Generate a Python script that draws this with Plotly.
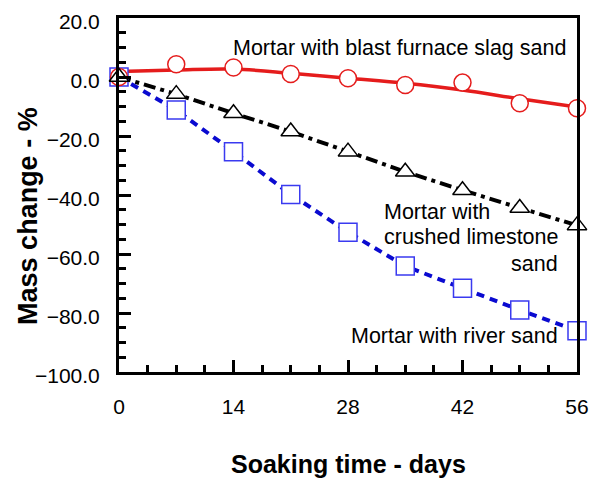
import plotly.graph_objects as go

days = [0, 7, 14, 21, 28, 35, 42, 49, 56]
slag_pts = [0.0, 4.3, 3.2, 1.0, -0.4, -2.7, -1.9, -8.9, -10.6]
slag_fit = [1.9, 2.4, 2.7, 1.3, -0.4, -2.1, -4.4, -7.4, -10.2]
lime_pts = [0.0, -5.8, -12.3, -18.5, -25.3, -32.1, -38.4, -44.4, -50.3]
river_pts = [0.0, -11.2, -25.3, -39.8, -52.6, -64.1, -71.6, -79.0, -86.0]

FONT = "Liberation Sans, Arial, sans-serif"
RED = "#e51c1c"
BLUE = "#0a0ad0"

fig = go.Figure()
# lines
fig.add_trace(go.Scatter(x=days, y=river_pts, mode="lines",
                         line=dict(color=BLUE, width=4, dash="8px,6px"),
                         showlegend=False, cliponaxis=False))
fig.add_trace(go.Scatter(x=days, y=lime_pts, mode="lines",
                         line=dict(color="black", width=4, dash="12px,5px,4px,5px"),
                         showlegend=False, cliponaxis=False))
fig.add_trace(go.Scatter(x=days, y=slag_fit, mode="lines", line_shape="spline",
                         line=dict(color=RED, width=3.5),
                         showlegend=False, cliponaxis=False))
# markers
fig.add_trace(go.Scatter(x=days, y=river_pts, mode="markers",
                         marker=dict(symbol="square", size=18, color="white",
                                     line=dict(color="#3a3af0", width=1.5)),
                         showlegend=False, cliponaxis=False))
fig.add_trace(go.Scatter(x=days, y=slag_pts, mode="markers",
                         marker=dict(symbol="circle", size=17, color="white",
                                     line=dict(color=RED, width=1.5)),
                         showlegend=False, cliponaxis=False))
fig.add_trace(go.Scatter(x=days, y=lime_pts, mode="markers",
                         marker=dict(symbol="triangle-up", size=17, color="white",
                                     line=dict(color="black", width=1.5)),
                         showlegend=False, cliponaxis=False))

ann_font = dict(family=FONT, size=21.5, color="black")
fig.add_annotation(x=54.9, y=9.8, text="Mortar with blast furnace slag sand",
                   xanchor="right", yanchor="middle", showarrow=False, font=ann_font)
fig.add_annotation(x=32.15, y=-45.6, text="Mortar with",
                   xanchor="left", yanchor="middle", showarrow=False, font=ann_font)
fig.add_annotation(x=32.15, y=-54.1, text="crushed limestone",
                   xanchor="left", yanchor="middle", showarrow=False, font=ann_font)
fig.add_annotation(x=53.9, y=-63.3, text="sand",
                   xanchor="right", yanchor="middle", showarrow=False, font=ann_font)
fig.add_annotation(x=53.9, y=-87.8, text="Mortar with river sand",
                   xanchor="right", yanchor="middle", showarrow=False, font=ann_font)

# axis titles
fig.add_annotation(xref="paper", yref="paper", x=0.5, y=-0.26,
                   text="<b>Soaking time - days</b>", showarrow=False,
                   xanchor="center", yanchor="middle",
                   font=dict(family=FONT, size=25, color="black"))
fig.add_annotation(xref="paper", yref="paper", x=-0.2, y=0.442,
                   text="<b>Mass change - %</b>", showarrow=False, textangle=-90,
                   xanchor="center", yanchor="middle",
                   font=dict(family=FONT, size=27, color="black"))

fig.update_xaxes(range=[0, 56], tickvals=[0, 14, 28, 42, 56],
                 ticks="inside", ticklen=12, tickwidth=2.5, tickcolor="black",
                 minor=dict(dtick=3.5, tick0=0, ticks="inside", ticklen=7,
                            tickwidth=2.5, tickcolor="black"),
                 showline=True, linewidth=3, linecolor="black", mirror=True,
                 automargin=False, ticklabeloverflow="allow",
                 showgrid=False, zeroline=False, ticklabelstandoff=14,
                 tickfont=dict(family=FONT, size=21, color="black"))
fig.update_yaxes(range=[-100, 20], tickvals=[-100, -80, -60, -40, -20, 0, 20],
                 tickformat=".1f",
                 ticks="inside", ticklen=12, tickwidth=2.5, tickcolor="black",
                 minor=dict(dtick=5, tick0=0, ticks="inside", ticklen=7,
                            tickwidth=2.5, tickcolor="black"),
                 showline=True, linewidth=3, linecolor="black", mirror=True,
                 automargin=False, ticklabeloverflow="allow", ticklabelshift=4,
                 showgrid=False, zeroline=False, ticklabelstandoff=12,
                 tickfont=dict(family=FONT, size=21, color="black"))

fig.update_layout(width=589, height=471,
                  margin=dict(l=111, r=20, t=10, b=107),
                  plot_bgcolor="white", paper_bgcolor="white",
                  font=dict(family=FONT, color="black"))

fig.write_html("out.html")
